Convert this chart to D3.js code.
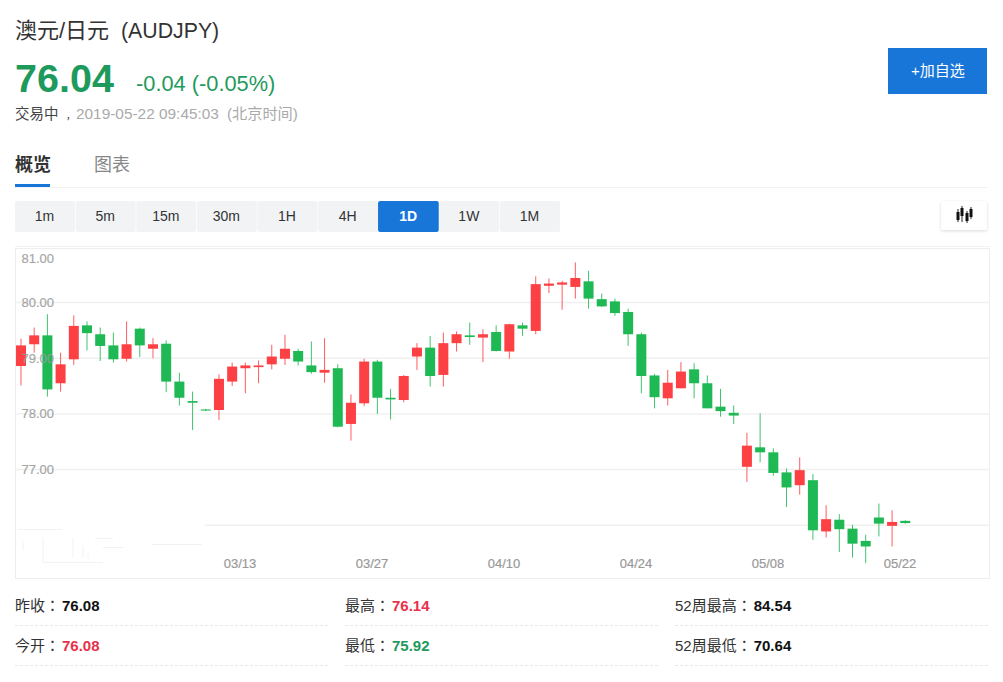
<!DOCTYPE html>
<html><head><meta charset="utf-8">
<script src="https://cdn.jsdelivr.net/npm/d3@7"></script>
<style>
html,body{margin:0;padding:0;background:#fff}
svg{display:block}
text{font-family:"Liberation Sans","Noto Sans CJK SC",sans-serif}
text.tc{font-family:"Liberation Sans","Noto Sans CJK TC",sans-serif}
</style></head><body>
<svg id="c" width="1003" height="682"></svg>
<script>
const dates = d3.timeDays(new Date(2019,1,18), new Date(2019,4,23)).filter(d=>d.getDay()%6!==0);
const highs = [79.35,79.55,79.79,79.10,79.77,79.66,79.55,79.46,79.66,79.55,79.36,79.32,78.74,78.40,78.09,78.71,78.92,78.92,78.96,79.24,79.42,79.17,79.30,79.36,
78.89,78.35,78.99,78.97,78.45,78.70,79.27,79.40,79.46,79.48,79.64,79.52,79.59,79.62,79.64,80.47,80.43,80.39,80.72,80.57,80.16,80.07,79.89,79.46,78.72,78.79,
78.93,78.91,78.69,78.45,78.15,77.66,78.01,77.38,77.02,77.22,76.92,76.36,76.20,76.01,75.83,76.39,76.27,76.09];
const tops = [79.23,79.41,79.41,78.89,79.58,79.59,79.43,79.23,79.25,79.53,79.25,79.26,78.58,78.23,78.08,78.63,78.85,78.87,78.87,79.03,79.17,79.13,78.87,78.79,
78.82,78.20,78.94,78.94,78.29,78.68,79.19,79.19,79.27,79.43,79.41,79.43,79.47,79.61,79.59,80.33,80.34,80.36,80.44,80.38,80.06,80.02,79.83,79.43,78.69,78.56,
78.76,78.80,78.55,78.13,78.02,77.43,77.40,77.31,76.95,76.99,76.81,76.11,76.10,75.94,75.72,76.14,76.06,76.08];
const bottoms = [78.86,79.25,78.44,78.55,78.98,79.45,79.22,78.98,78.99,79.23,79.17,78.58,78.29,78.20,78.06,78.07,78.58,78.82,78.84,78.89,78.99,78.94,78.75,78.74,
77.77,77.82,78.19,78.29,78.26,78.25,79.03,78.68,78.70,79.27,79.38,79.37,79.13,79.12,79.53,79.49,80.30,80.32,80.28,80.07,79.93,79.81,79.43,78.68,78.30,78.28,
78.46,78.55,78.10,78.05,77.97,77.05,77.31,76.94,76.68,76.72,75.91,75.89,75.93,75.67,75.62,76.03,75.99,76.04];
const lows = [78.51,79.10,78.31,78.40,78.88,79.14,78.95,78.92,78.94,79.02,79.00,78.39,78.15,77.71,78.05,77.89,78.50,78.37,78.55,78.80,78.88,78.87,78.72,78.56,
77.76,77.52,78.14,78.00,77.90,78.21,78.79,78.49,78.49,79.12,79.24,78.93,79.12,78.99,79.40,79.43,80.17,79.87,80.07,79.89,79.92,79.76,79.22,78.37,78.10,78.15,
78.46,78.28,78.10,77.95,77.82,76.78,77.13,76.89,76.33,76.55,75.74,75.78,75.52,75.42,75.32,75.80,75.62,76.03];
const rising = [1,1,0,1,1,0,0,0,1,0,1,0,0,0,0,1,1,1,1,1,1,0,0,1,
0,1,1,0,0,1,1,0,1,1,0,1,0,1,0,1,1,1,1,0,0,0,0,0,0,1,
1,0,0,0,0,1,0,0,0,1,0,1,0,0,0,0,1,0];
const yTicks = [81,80,79,78,77];
const gridValues = [80,79,78,77,76];
const xTickLabels = ["03/13","03/27","04/10","04/24","05/08","05/22"];
const intervals = ["1m","5m","15m","30m","1H","4H","1D","1W","1M"];
const statRows = [
 [["昨收：","76.08","#111"],["最高：","76.14","#e8304a"],["52周最高：","84.54","#111"]],
 [["今开：","76.08","#e8304a"],["最低：","75.92","#1f9a5d"],["52周最低：","70.64","#111"]]
];
const UP="#fd4044", DOWN="#1eb955", BLUE="#1976d9", GREEN="#1f9a5d";

const svg=d3.select("#c");
const T=(x,y,s,size,fill,o={})=>svg.append("text").attr("x",x).attr("y",y).attr("font-size",size).attr("fill",fill)
  .attr("font-weight",o.w||400).attr("text-anchor",o.a||"start").attr("class",o.c||null).text(s);

// header
T(15,38,"澳元/日元",22,"#333");
T(121,38,"(AUDJPY)",21.3,"#333");
T(15,92,"76.04",39.5,GREEN,{w:700});
T(136,91,"-0.04 (-0.05%)",21.8,GREEN);
T(15,119,"交易中",14.5,"#444");
T(66,119,"，",9.5,"#444");
T(76,119,"2019-05-22 09:45:03",15.4,"#aaa");
T(227,119,"(北京时间)",15.2,"#aaa");
svg.append("rect").attr("x",888).attr("y",48).attr("width",99).attr("height",46).attr("fill",BLUE);
T(938,76,"+加自选",15,"#fff",{a:"middle"});

// tabs
T(15,171,"概览",18,"#333",{w:700});
T(94,171,"图表",18,"#888");
svg.append("rect").attr("x",15).attr("y",187).attr("width",972).attr("height",1).attr("fill","#f2f2f2");
svg.append("rect").attr("x",15).attr("y",184).attr("width",35).attr("height",3).attr("fill",BLUE);

// intervals
const bx=d3.scaleBand().domain(intervals).range([15,560]).paddingInner(0.01);
intervals.forEach(k=>{
  const on=k==="1D";
  svg.append("rect").attr("x",k==="1D"?bx(k)-0.7:bx(k)).attr("y",201).attr("width",bx.bandwidth()+(on?0.7:0)).attr("height",31).attr("rx",2).attr("fill",on?BLUE:"#f2f3f5");
  T(bx(k)+bx.bandwidth()/2-0.5,221,k,14,on?"#fff":"#333",{a:"middle",w:on?700:400});
});

// icon button
const defs=svg.append("defs");
const fl=defs.append("filter").attr("id","sh").attr("x","-20%").attr("y","-20%").attr("width","140%").attr("height","150%");
fl.append("feDropShadow").attr("dx",0).attr("dy",1).attr("stdDeviation",1.5).attr("flood-color","#000").attr("flood-opacity",0.15);
svg.append("rect").attr("x",941).attr("y",201).attr("width",46).attr("height",29).attr("rx",2).attr("fill","#fff").attr("filter","url(#sh)");
[[958,212,220,209,222],[962,208,216,206,222],[967,213,221,211,223],[971,209,217,207,219]].forEach(([x,a,b,h,l])=>{
  svg.append("line").attr("x1",x).attr("x2",x).attr("y1",h).attr("y2",l).attr("stroke","#222");
  svg.append("rect").attr("x",x-1.5).attr("y",a).attr("width",3).attr("height",b-a).attr("fill","#111");
});

// chart frame
svg.append("rect").attr("x",15.5).attr("y",248.5).attr("width",974).attr("height",330).attr("fill","none").attr("stroke","#eee");
svg.append("line").attr("x1",15).attr("x2",990).attr("y1",246.5).attr("y2",246.5).attr("stroke","#f2f2f2");

const y=d3.scaleLinear().domain([76,80]).range([525.3,302.5]);
const x=d3.scaleBand().domain(dates.map(d3.timeFormat("%Y-%m-%d"))).range([14.4,911.9]);
const fmt=d3.timeFormat("%m/%d");
const key=d3.timeFormat("%Y-%m-%d");

// grid
svg.append("g").selectAll("line").data(gridValues).join("line")
  .attr("x1",d=>d===76?205:16).attr("x2",989).attr("y1",d=>y(d)).attr("y2",d=>y(d))
  .attr("stroke","#f0f0f0").attr("stroke-width",1.5);

// candles
const idx=dates.map((d,i)=>i);
const cx=i=>x(key(dates[i]))+x.bandwidth()/2;
const g=svg.append("g");
g.selectAll("line").data(idx).join("line")
  .attr("x1",cx).attr("x2",cx).attr("y1",i=>y(highs[i])).attr("y2",i=>y(lows[i]))
  .attr("stroke",i=>rising[i]?UP:DOWN).attr("stroke-width",1).attr("stroke-opacity",0.85);
g.selectAll("rect").data(idx).join("rect")
  .attr("x",i=>cx(i)-5).attr("width",10)
  .attr("y",i=>y(tops[i])).attr("height",i=>Math.max(1,y(bottoms[i])-y(tops[i])))
  .attr("fill",i=>rising[i]?UP:DOWN);

// y labels (drawn over the candles)
svg.append("g").selectAll("text").data(yTicks).join("text")
  .attr("x",21.5).attr("y",d=>d===81?263:y(d)+4.5).attr("font-size",13)
  .attr("fill","#999").attr("fill-opacity",0.85).attr("stroke","#999").attr("stroke-width",0.2).text(d=>d.toFixed(2));

// x labels
svg.append("g").selectAll("text").data(dates.filter(d=>xTickLabels.includes(fmt(d)))).join("text")
  .attr("x",d=>x(key(d))+x.bandwidth()/2-5.3).attr("y",568).attr("text-anchor","middle")
  .attr("font-size",13).attr("fill","#999").attr("stroke","#999").attr("stroke-width",0.2).text(fmt);

// faint remnants of erased watermark
[[18,62,529,529],[152,202,544,544],[43,103,562,562],[95,113,538,538],[103,123,547,547],[23,23,540,550],[43,43,537,562],[73,73,537,557],[83,83,545,557],[88,88,552,558]].forEach(([a,b,c,e])=>{
  svg.append("line").attr("x1",a).attr("x2",b).attr("y1",c+.5).attr("y2",e+.5).attr("stroke","#f0f2f6");
});

// stats
const colX=[15,345,675], rowY=[606,646], lineY=[625.5,665.5];
statRows.forEach((row,r)=>row.forEach(([lab,val,col],c)=>{
  const t=T(colX[c],rowY[r]+5,lab,15,"#333",{c:"tc"});
  const w=t.node().getComputedTextLength();
  T(colX[c]+w+2,rowY[r]+5,val,15,col,{w:700});
  svg.append("line").attr("x1",colX[c]).attr("x2",colX[c]+313).attr("y1",lineY[r]).attr("y2",lineY[r])
    .attr("stroke","#e8e8e8").attr("stroke-dasharray","3 2");
}));
</script></body></html>
